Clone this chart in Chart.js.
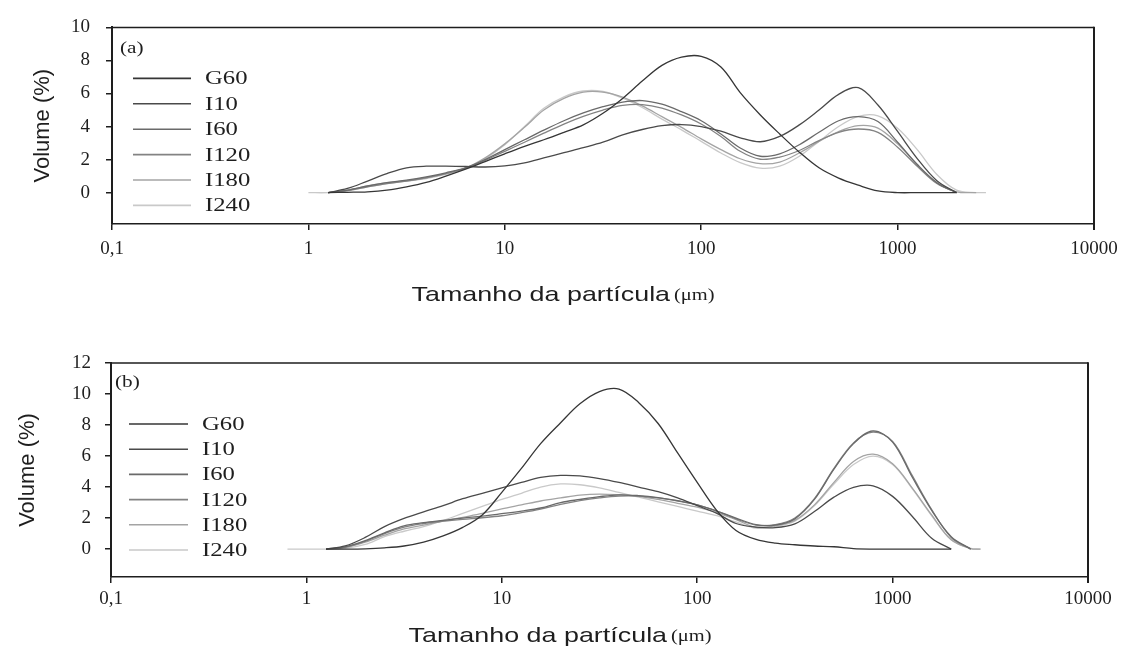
<!DOCTYPE html>
<html><head><meta charset="utf-8">
<script src="https://cdn.jsdelivr.net/npm/chart.js@4.4.1/dist/chart.umd.min.js"></script>
<style>
html,body{margin:0;padding:0;background:#fff;}
#wrap{position:relative;width:1129px;height:649px;overflow:hidden;background:#fff;}
.box{position:absolute;left:0;width:1129px;}
</style></head><body>
<div id="wrap">
<div class="box" style="top:0;height:325px"><canvas id="ca" width="1129" height="325" style="width:1129px;height:325px"></canvas></div>
<div class="box" style="top:325px;height:324px"><canvas id="cb" width="1129" height="324" style="width:1129px;height:324px"></canvas></div>
</div>
<script>
// ---------- data ----------
const sizes = [0.8, 1, 1.26, 1.58, 2, 2.51, 3.16, 3.98, 5.01, 6.31, 7.94, 10, 12.6, 15.8, 20, 25.1, 31.6, 39.8, 50.1, 63.1, 79.4, 100, 126, 158, 200, 251, 316, 398, 501, 631, 794, 1000, 1259, 1585, 1995, 2512, 2818];
const seriesNames = ['G60', 'I10', 'I60', 'I120', 'I180', 'I240'];

// panel (a)
const aG60  = [null, null, 0, 0.02, 0.05, 0.15, 0.35, 0.62, 1.0, 1.42, 1.88, 2.35, 2.8, 3.2, 3.65, 4.1, 4.8, 5.7, 6.75, 7.7, 8.2, 8.25, 7.6, 6.05, 4.7, 3.55, 2.45, 1.5, 0.88, 0.45, 0.1, 0, 0, 0, 0, null, null];
const aI10  = [null, null, 0, 0.25, 0.7, 1.15, 1.5, 1.6, 1.6, 1.58, 1.55, 1.62, 1.8, 2.1, 2.42, 2.72, 3.05, 3.5, 3.82, 4.05, 4.12, 4.0, 3.72, 3.32, 3.08, 3.4, 4.1, 5.0, 5.95, 6.35, 5.3, 3.7, 2.06, 0.72, 0, null, null];
const aI60  = [null, null, 0, 0.15, 0.4, 0.6, 0.75, 0.95, 1.2, 1.5, 2.0, 2.6, 3.2, 3.78, 4.35, 4.82, 5.2, 5.48, 5.57, 5.35, 4.9, 4.35, 3.55, 2.7, 2.2, 2.35, 2.9, 3.65, 4.35, 4.6, 4.3, 3.05, 1.7, 0.6, 0, null, null];
const aI120 = [null, null, 0, 0.12, 0.35, 0.55, 0.7, 0.9, 1.15, 1.48, 1.95, 2.5, 3.05, 3.6, 4.15, 4.62, 5.0, 5.28, 5.33, 5.12, 4.7, 4.15, 3.4, 2.5, 2.02, 2.15, 2.55, 3.15, 3.65, 3.85, 3.65, 2.75, 1.6, 0.55, 0, null, null];
const aI180 = [null, null, 0, 0.15, 0.4, 0.6, 0.72, 0.9, 1.15, 1.48, 2.1, 2.95, 3.95, 5.0, 5.7, 6.08, 6.08, 5.78, 5.25, 4.6, 3.95, 3.25, 2.6, 2.05, 1.75, 1.85, 2.4, 3.1, 3.7, 4.05, 3.9, 2.95, 1.7, 0.6, 0.05, 0, null];
const aI240 = [null, 0, 0, 0.1, 0.35, 0.55, 0.7, 0.85, 1.1, 1.45, 2.05, 2.9, 4.0, 5.1, 5.8, 6.15, 6.12, 5.72, 5.15, 4.45, 3.8, 3.1, 2.4, 1.82, 1.48, 1.6, 2.2, 3.1, 4.0, 4.62, 4.65, 3.9, 2.6, 1.1, 0.15, 0, 0];

// panel (b)
const bG60  = [null, null, 0, 0, 0.02, 0.08, 0.2, 0.45, 0.85, 1.4, 2.2, 3.66, 5.2, 6.8, 8.15, 9.37, 10.16, 10.32, 9.46, 8.1, 6.2, 4.3, 2.48, 1.2, 0.62, 0.38, 0.28, 0.2, 0.15, 0.03, 0, 0, 0, 0, 0, null, null];
const bI10  = [null, null, 0, 0.2, 0.75, 1.45, 1.98, 2.4, 2.8, 3.25, 3.6, 3.95, 4.3, 4.62, 4.75, 4.72, 4.55, 4.3, 4.0, 3.7, 3.3, 2.8, 2.3, 1.65, 1.42, 1.38, 1.62, 2.42, 3.35, 3.98, 4.08, 3.4, 2.12, 0.7, 0, null, null];
const bI60  = [null, null, 0, 0.15, 0.55, 1.05, 1.5, 1.7, 1.85, 2.0, 2.12, 2.28, 2.45, 2.65, 3.0, 3.2, 3.38, 3.5, 3.45, 3.32, 3.12, 2.85, 2.45, 2.0, 1.58, 1.55, 1.95, 3.2, 5.15, 6.8, 7.62, 6.9, 4.65, 2.5, 0.8, 0, null];
const bI120 = [null, null, 0, 0.12, 0.5, 1.0, 1.42, 1.65, 1.8, 1.92, 2.02, 2.15, 2.35, 2.58, 2.88, 3.12, 3.3, 3.42, 3.42, 3.3, 3.1, 2.85, 2.45, 1.95, 1.55, 1.58, 2.0, 3.25, 5.2, 6.85, 7.55, 6.95, 4.75, 2.55, 0.75, 0, null];
const bI180 = [null, null, 0, 0.1, 0.45, 0.9, 1.3, 1.55, 1.8, 2.05, 2.3, 2.6, 2.85, 3.1, 3.3, 3.48, 3.55, 3.5, 3.4, 3.2, 2.95, 2.7, 2.35, 1.9, 1.4, 1.5, 1.85, 2.85, 4.3, 5.65, 6.12, 5.5, 3.95, 2.2, 0.6, 0.03, 0];
const bI240 = [0, 0, 0, 0.05, 0.3, 0.8, 1.15, 1.45, 1.85, 2.3, 2.75, 3.2, 3.6, 4.0, 4.2, 4.15, 3.95, 3.65, 3.35, 3.05, 2.75, 2.45, 2.15, 1.75, 1.35, 1.45, 1.8, 2.8, 4.2, 5.45, 6.0, 5.45, 3.9, 2.15, 0.6, 0.05, 0];

// ticks and texts
const xTickValues = [0.1, 1, 10, 100, 1000, 10000];
const xTickLabels = ['0,1', '1', '10', '100', '1000', '10000'];
const yTicksA = [0, 2, 4, 6, 8, 10];
const yTicksB = [0, 2, 4, 6, 8, 10, 12];
const panelTags = ['(a)', '(b)'];
const yTitleText = 'Volume (%)';
const xTitleText = 'Tamanho da partícula';
const xUnitText = '(μm)';

// ---------- styles ----------
const lineColors = ['#363636', '#4a4a4a', '#6a6a6a', '#838383', '#a4a4a4', '#c9c9c9'];
const INK = '#1e1e1e';

const framePlugin = {
  id: 'frame',
  afterDraw(chart) {
    const {ctx, chartArea: a} = chart;
    ctx.save();
    ctx.strokeStyle = INK;
    ctx.lineWidth = 1.5;
    ctx.beginPath(); ctx.moveTo(a.left, a.top); ctx.lineTo(a.right, a.top); ctx.stroke();
    ctx.lineWidth = 2;
    ctx.beginPath(); ctx.moveTo(a.right, a.top - 0.75); ctx.lineTo(a.right, a.bottom + 6); ctx.stroke();
    ctx.restore();
  }
};

const insideLegend = {
  id: 'insideLegend',
  afterDraw(chart, args, o) {
    const {ctx, chartArea: a} = chart;
    ctx.save();
    ctx.fillStyle = INK;
    ctx.textBaseline = 'middle';
    ctx.textAlign = 'left';
    ctx.font = '17px "Liberation Serif"';
    ctx.save(); ctx.translate(a.left + o.tagX, a.top + o.tagY); ctx.scale(1.25, 1);
    ctx.fillText(o.tag, 0, 0); ctx.restore();
    ctx.font = '19px "Liberation Serif"';
    chart.data.datasets.forEach((ds, i) => {
      const y = a.top + o.y0 + i * o.dy;
      ctx.strokeStyle = ds.borderColor;
      ctx.lineWidth = 1.6;
      ctx.beginPath(); ctx.moveTo(a.left + o.x0, y); ctx.lineTo(a.left + o.x1, y); ctx.stroke();
      ctx.save(); ctx.translate(a.left + o.tx, y + 1); ctx.scale(1.3, 1);
      ctx.fillText(ds.label, 0, 0); ctx.restore();
    });
    ctx.restore();
  }
};

const xTitlePlugin = {
  id: 'xTitle',
  afterDraw(chart, args, o) {
    const {ctx, chartArea: a} = chart;
    ctx.save();
    ctx.fillStyle = INK;
    ctx.textBaseline = 'middle';
    ctx.textAlign = 'left';
    const f1 = '21px "Liberation Sans"', f2 = '16px "Liberation Serif"';
    ctx.font = f1; const w1 = ctx.measureText(o.text).width;
    ctx.font = f2; const w2 = ctx.measureText(o.unit).width;
    const gap = 3;
    const total = (w1 + gap + w2) * o.sx;
    ctx.translate(a.left + o.cx - total / 2, a.bottom + o.cy);
    ctx.scale(o.sx, 1);
    ctx.font = f1; ctx.fillText(o.text, 0, 0);
    ctx.font = f2; ctx.fillText(o.unit, w1 + gap, 1);
    ctx.restore();
  }
};

function makeChart(id, seriesList, cfg) {
  const datasets = seriesList.map((vals, i) => ({
    label: seriesNames[i],
    data: sizes.map((x, j) => ({x: x, y: vals[j]})),
    borderColor: lineColors[i],
    backgroundColor: lineColors[i],
    borderWidth: 1.3,
    pointRadius: 0,
    fill: false,
    tension: 0.35,
    spanGaps: false
  }));
  const tickFont = {family: 'Liberation Serif', size: 19};
  return new Chart(document.getElementById(id), {
    type: 'line',
    data: {datasets},
    plugins: [framePlugin, insideLegend, xTitlePlugin],
    options: {
      responsive: false,
      animation: false,
      devicePixelRatio: 1,
      layout: {padding: cfg.padding},
      plugins: {
        legend: {display: false},
        tooltip: {enabled: false},
        insideLegend: cfg.legend,
        xTitle: cfg.xTitle
      },
      scales: {
        x: {
          type: 'logarithmic',
          min: 0.1, max: 10000,
          afterBuildTicks: s => { s.ticks = xTickValues.map(v => ({value: v})); },
          afterFit: s => { s.height = cfg.xHeight; },
          ticks: {
            autoSkip: false, maxRotation: 0, minRotation: 0,
            font: tickFont, color: INK, padding: cfg.xPad,
            callback: v => xTickLabels[xTickValues.indexOf(v)]
          },
          grid: {display: true, drawOnChartArea: false, drawTicks: true, tickLength: 6, color: INK, lineWidth: 1.5},
          border: {display: true, color: INK, width: 1.5}
        },
        y: {
          type: 'linear',
          min: cfg.yMin, max: cfg.yMax,
          afterBuildTicks: s => { s.ticks = cfg.yTicks.map(v => ({value: v})); },
          afterFit: s => { s.width = cfg.yWidth; },
          ticks: {font: tickFont, color: INK, padding: cfg.yPad, callback: v => String(v)},
          grid: {display: true, drawOnChartArea: false, drawTicks: true, tickLength: 6, color: INK, lineWidth: 1.5},
          border: {display: true, color: INK, width: 2},
          title: {
            display: true, text: yTitleText, color: INK,
            font: {family: 'Liberation Sans', size: 22},
            padding: {top: cfg.yTitlePad, bottom: 0}
          }
        }
      }
    }
  });
}

makeChart('ca', [aG60, aI10, aI60, aI120, aI180, aI240], {
  padding: {top: 24, right: 35, left: 0, bottom: 0},
  xHeight: 101, yWidth: 112, xPad: 8, yPad: 16, yTitlePad: 30,
  yMin: -1.9, yMax: 10, yTicks: yTicksA,
  legend: {tag: panelTags[0], tagX: 8, tagY: 21, x0: 21, x1: 79, tx: 93, y0: 51, dy: 25.4},
  xTitle: {text: xTitleText, unit: xUnitText, cx: 451, cy: 71, sx: 1.28}
});

makeChart('cb', [bG60, bI10, bI60, bI120, bI180, bI240], {
  padding: {top: 38, right: 41, left: 0, bottom: 0},
  xHeight: 72, yWidth: 111, xPad: 5, yPad: 14, yTitlePad: 15,
  yMin: -1.8, yMax: 12, yTicks: yTicksB,
  legend: {tag: panelTags[1], tagX: 4, tagY: 20, x0: 18, x1: 77, tx: 91, y0: 61, dy: 25.2},
  xTitle: {text: xTitleText, unit: xUnitText, cx: 449, cy: 59, sx: 1.28}
});
</script>
</body></html>
